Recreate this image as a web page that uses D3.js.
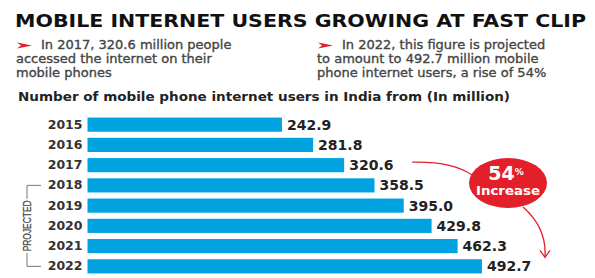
<!DOCTYPE html>
<html>
<head>
<meta charset="utf-8">
<script src="https://cdn.jsdelivr.net/npm/d3@7"></script>
<style>
  body { margin: 0; background: #fff; }
  svg { display: block; }
</style>
</head>
<body>
<div id="figure"></div>
<script>
// data
var years = ["2015", "2016", "2017", "2018", "2019", "2020", "2021", "2022"];
var users = [242.9, 281.8, 320.6, 358.5, 395.0, 429.8, 462.3, 492.7];
var projectedYears = ["2018", "2019", "2020", "2021", "2022"];
var titleText = "MOBILE INTERNET USERS GROWING AT FAST CLIP";
var noteLeft = ["In 2017, 320.6 million people", "accessed the internet on their", "mobile phones"];
var noteRight = ["In 2022, this figure is projected", "to amount to 492.7 million mobile", "phone internet users, a rise of 54%"];
var chartTitle = "Number of mobile phone internet users in India from (In million)";
var badgeValue = "54";
var badgeWord = "Increase";

var width = 595, height = 278;
var red = "#e3202a";
var blue = "#00a3e0";

var svg = d3.select("#figure")
    .append("svg")
    .attr("width", width)
    .attr("height", height)
    .style("font-family", "'DejaVu Sans', Verdana, sans-serif");

// headline
svg.append("text")
    .attr("x", 15)
    .attr("y", 27)
    .attr("textLength", 571)
    .attr("lengthAdjust", "spacingAndGlyphs")
    .style("font-size", "17.5px")
    .style("font-weight", "bold")
    .attr("fill", "#111")
    .text(titleText);

// two notes with red arrow bullets
function addNote(x0, lines) {
    svg.append("path")
        .attr("d", `M${x0},42.5 L${x0 + 15},45.5 L${x0},48.5 L${x0 + 4},45.5 Z`)
        .attr("fill", red);
    lines.forEach(function (t, i) {
        svg.append("text")
            .attr("x", i == 0 ? x0 + 24 : x0 - 1)
            .attr("y", 49 + i * 14)
            .style("font-size", "13px")
            .attr("fill", "#444")
            .attr("stroke", "#444")
            .attr("stroke-width", 0.35)
            .text(t);
    });
}
addNote(17, noteLeft);
addNote(318, noteRight);

// chart title
svg.append("text")
    .attr("x", 18)
    .attr("y", 101)
    .attr("textLength", 492)
    .attr("lengthAdjust", "spacingAndGlyphs")
    .style("font-size", "11.5px")
    .style("font-weight", "bold")
    .attr("fill", "#222")
    .text(chartTitle);

// scales
var x = d3.scaleLinear()
    .domain([0, 500])
    .range([87.5, 487.8]);

var y = d3.scaleBand()
    .domain(years)
    .range([111.5, 279.5])
    .padding(0.3);

var rows = years.map((d, i) => ({ year: d, value: users[i] }));

svg.selectAll(".bar")
    .data(rows)
    .join("rect")
    .attr("class", "bar")
    .attr("x", x(0))
    .attr("y", d => y(d.year))
    .attr("width", d => x(d.value) - x(0))
    .attr("height", y.bandwidth())
    .attr("fill", blue);

// year labels
var yAxis = svg.append("g")
    .attr("transform", `translate(${x(0) - 5},0)`)
    .call(d3.axisLeft(y).tickSize(0).tickPadding(0));
yAxis.select(".domain").remove();
yAxis.selectAll("text")
    .style("font-family", "'DejaVu Sans', Verdana, sans-serif")
    .style("font-size", "12.5px")
    .style("font-weight", "bold")
    .attr("fill", "#333");

// value labels
svg.selectAll(".val")
    .data(rows)
    .join("text")
    .attr("class", "val")
    .attr("x", d => x(d.value) + 5)
    .attr("y", d => y(d.year) + y.bandwidth() / 2)
    .attr("dy", "0.36em")
    .style("font-size", "14px")
    .style("font-weight", "bold")
    .attr("fill", "#222")
    .text(d => d.value.toFixed(1));

// "PROJECTED" bracket
var pTop = y(projectedYears[0]) + y.bandwidth() / 2;
var pBot = y(projectedYears[projectedYears.length - 1]) + y.bandwidth() / 2;
var pMid = (pTop + pBot) / 2;
var bx = 27;
var bracket = svg.append("g")
    .attr("fill", "none")
    .attr("stroke", "#777")
    .attr("stroke-width", 1);
bracket.append("path")
    .attr("d", `M${bx + 14},${pTop} H${bx} V${pMid - 27}`);
bracket.append("path")
    .attr("d", `M${bx + 14},${pBot} H${bx} V${pMid + 27}`);
svg.append("text")
    .attr("transform", `translate(${bx + 4},${pMid}) rotate(-90)`)
    .attr("text-anchor", "middle")
    .attr("textLength", 51)
    .attr("lengthAdjust", "spacingAndGlyphs")
    .style("font-family", "'Liberation Sans Narrow', 'Liberation Sans', sans-serif")
    .style("font-size", "11px")
    .attr("fill", "#444")
    .attr("stroke", "#444")
    .attr("stroke-width", 0.25)
    .text("PROJECTED");

// red "54% Increase" badge with connector lines
var cx = 508, cy = 183;
var from = { x: x(users[2]) + 68, y: y(years[2]) + y.bandwidth() / 2 - 3 };
var to = { x: 545, y: y(years[7]) + y.bandwidth() / 2 - 9 };

svg.append("path")
    .attr("d", `M${from.x},${from.y} Q${from.x + 40},${from.y - 1} ${cx - 36},${cy - 8}`)
    .attr("fill", "none")
    .attr("stroke", red)
    .attr("stroke-width", 1.3);
svg.append("path")
    .attr("d", `M${cx + 15},${cy + 24} Q${to.x + 2},${cy + 45} ${to.x},${to.y}`)
    .attr("fill", "none")
    .attr("stroke", red)
    .attr("stroke-width", 1.3);
svg.append("path")
    .attr("d", `M${to.x - 5},${to.y - 7} L${to.x},${to.y} L${to.x + 5},${to.y - 7}`)
    .attr("fill", "none")
    .attr("stroke", red)
    .attr("stroke-width", 1.3);

svg.append("ellipse")
    .attr("cx", cx)
    .attr("cy", cy)
    .attr("rx", 39)
    .attr("ry", 25)
    .attr("fill", red);

var badge = svg.append("text")
    .attr("x", cx - 2)
    .attr("y", cy - 3)
    .attr("text-anchor", "middle")
    .attr("fill", "#fff")
    .style("font-weight", "bold");
badge.append("tspan")
    .style("font-size", "19px")
    .text(badgeValue);
badge.append("tspan")
    .style("font-size", "9px")
    .attr("dy", "-0.6em")
    .text("%");

svg.append("text")
    .attr("x", cx)
    .attr("y", cy + 12)
    .attr("text-anchor", "middle")
    .attr("fill", "#fff")
    .attr("textLength", 64)
    .attr("lengthAdjust", "spacingAndGlyphs")
    .style("font-size", "13px")
    .style("font-weight", "bold")
    .text(badgeWord);
</script>
</body>
</html>
